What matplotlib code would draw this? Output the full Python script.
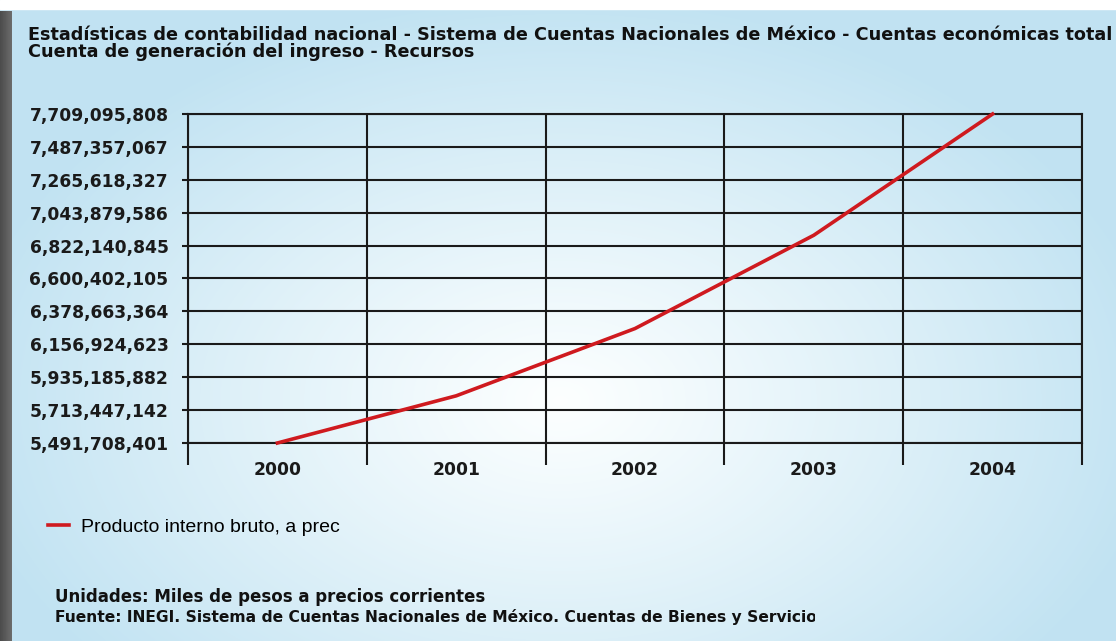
import numpy as np
import matplotlib.pyplot as plt
from matplotlib.patches import Rectangle
from matplotlib.transforms import Bbox

anios = ["2000", "2001", "2002", "2003", "2004"]
pib = [5491708401, 5809688000, 6263137000, 6891992000, 7709095808]
ticks_y = [5491708401, 5713447142, 5935185882, 6156924623, 6378663364,
           6600402105, 6822140845, 7043879586, 7265618327, 7487357067,
           7709095808]

titulo = ("Estadísticas de contabilidad nacional - Sistema de Cuentas Nacionales de México - Cuentas económicas total\n"
          "Cuenta de generación del ingreso - Recursos")
serie = "Producto interno bruto, a prec"
unidades = "Unidades: Miles de pesos a precios corrientes"
fuente = "Fuente: INEGI. Sistema de Cuentas Nacionales de México. Cuentas de Bienes y Servicios"

W, H = 1116, 641
ROJO = "#cf1a1f"
fig = plt.figure(figsize=(W / 100, H / 100), dpi=100)

# fondo con degradado azul claro
bg = fig.add_axes([0, 0, 1, 1])
bg.set_xlim(0, W)
bg.set_ylim(H, 0)
bg.axis("off")
yy, xx = np.mgrid[0:H, 0:W]
d = np.sqrt(((xx - 560) / 600) ** 2 + ((yy - 400) / 400) ** 2)
t = np.clip(d, 0, 1) ** 1.1
blanco = np.array([0.99, 1.0, 1.0])
azul = np.array([0.76, 0.89, 0.95])
img = blanco * (1 - t[..., None]) + azul * t[..., None]
bg.imshow(img, extent=(0, W, H, 0), aspect="auto", zorder=0)
# marco: franja blanca arriba y borde gris a la izquierda
bg.add_patch(Rectangle((0, 0), W, 9, color="white", zorder=1))
borde = np.linspace(0.30, 0.42, 12)[None, :].repeat(2, axis=0)
bg.imshow(borde, extent=(0, 12, H, 11), cmap="gray", vmin=0, vmax=1,
          aspect="auto", zorder=1)

fuente_txt = dict(family="DejaVu Sans", weight="bold", color="#111111")
bg.text(28, 57, titulo, fontsize=12.7, va="baseline", linespacing=0.92,
        **fuente_txt)
bg.text(55, 602, unidades, fontsize=12, va="baseline", **fuente_txt)
t_f = bg.text(55, 622, fuente, fontsize=11.2, va="baseline", **fuente_txt)
t_f.set_clip_box(Bbox.from_extents(0, 0, 815, H))
t_f.set_clip_on(True)

# grafica
ax = fig.add_axes([188 / W, 1 - 443 / H, (1082 - 188) / W, (443 - 114) / H])
ax.patch.set_alpha(0)
x = np.arange(len(anios)) + 0.5
ax.plot(x, pib, color=ROJO, lw=2.6, clip_on=False, label=serie, zorder=5)
ax.set_xlim(0, len(anios))
ax.set_ylim(ticks_y[0], ticks_y[-1])
ax.set_yticks(ticks_y)
ax.set_yticklabels([f"{v:,}" for v in ticks_y])
ax.set_xticks(x)
ax.set_xticklabels(anios)
ax.set_xticks(np.arange(len(anios) + 1), minor=True)
ax.tick_params(axis="x", which="major", length=0, pad=13)
ax.tick_params(axis="x", which="minor", length=16, width=1.5, color="#1a1a1a")
ax.tick_params(axis="y", length=4, width=1.5, pad=10, color="#1a1a1a")
ax.grid(True, axis="y", which="major", color="#1a1a1a", lw=1.5)
ax.grid(True, axis="x", which="minor", color="#1a1a1a", lw=1.5)
for s in ax.spines.values():
    s.set_color("#1a1a1a")
    s.set_linewidth(1.5)
for lab in ax.get_yticklabels() + ax.get_xticklabels():
    lab.set_fontfamily("DejaVu Sans")
    lab.set_fontweight("bold")
    lab.set_fontsize(12.3)
    lab.set_color("#1a1a1a")

fig.legend(loc="center left", bbox_to_anchor=(30 / W, 1 - 527 / H),
           frameon=False, handlelength=1.1, handletextpad=0.6,
           prop={"family": ["Liberation Sans", "DejaVu Sans"], "size": 14})

fig.savefig("out.png", dpi=100)
